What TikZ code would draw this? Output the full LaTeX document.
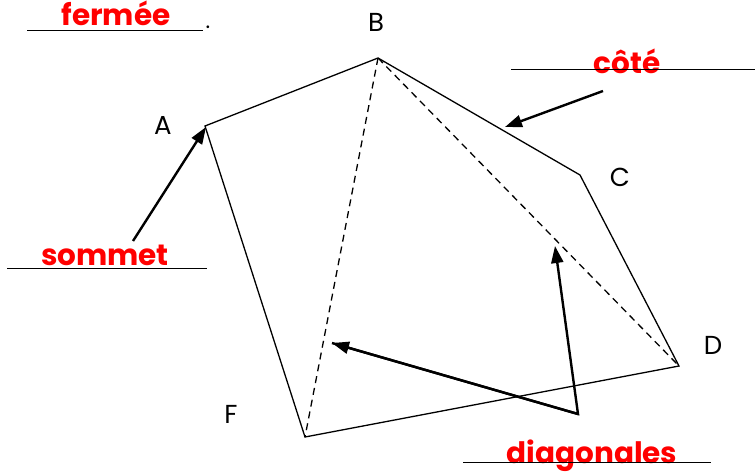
\documentclass[tikz,border=0pt]{standalone}
\usepackage{fontspec}
\setmainfont{Poppins}
\usetikzlibrary{arrows.meta}
\begin{document}
\begin{tikzpicture}[x=1pt,y=-1pt,
  edge/.style={line width=1.3pt,line join=miter},
  diag/.style={line width=1.3pt,dash pattern=on 7pt off 5pt},
  ptr/.style={line width=2.4pt,-{Triangle[length=17pt,width=12pt]}},
  vlbl/.style={font=\fontsize{26}{26}\selectfont,inner sep=0pt},
  word/.style={text=red,font=\bfseries\fontsize{29.5}{29.5}\selectfont,inner sep=0pt,anchor=base},
  blankline/.style={line width=0.9pt}]
\useasboundingbox (0,0) rectangle (755,474);
% vertices
\coordinate (A) at (205,126);
\coordinate (B) at (378,58);
\coordinate (C) at (580,175);
\coordinate (D) at (679,366);
\coordinate (E) at (305,437);
% polygon
\draw[edge] (A) -- (B) -- (C) -- (D) -- (E) -- cycle;
% diagonals
\draw[diag] (B) -- (E);
\draw[diag] (B) -- (D);
% vertex labels
\node[vlbl] (lA) at (163,125) {A};
\node[vlbl] (lB) at (376,22) {B};
\node[vlbl] (lC) at (620,177) {C};
\node[vlbl] (lD) at (713,345) {D};
\node[vlbl] (lF) at (231,414) {F};
% words
\node[word] (wf) at (116,25) {fermée};
\node[inner sep=0pt,font=\fontsize{22}{22}\selectfont,anchor=base] (dot) at (208,28) {.};
\node[word] (wc) at (627,73) {côté};
\node[word] (ws) at (105,265) {sommet};
\node[word] (wd) at (592,463) {diagonales};
% blank lines
\coordinate (f1) at (27,30); \coordinate (f2) at (203,30);
\coordinate (c1) at (511,69); \coordinate (c2) at (755,69);
\coordinate (s1) at (7,268); \coordinate (s2) at (207,268);
\coordinate (d1) at (463,462); \coordinate (d2) at (711,462);
\draw[blankline] (f1) -- (f2);
\draw[blankline] (c1) -- (c2);
\draw[blankline] (s1) -- (s2);
\draw[blankline] (d1) -- (d2);
% arrows
\coordinate (ts) at (133,241);
\coordinate (hs) at (206,127);
\coordinate (tc) at (603,91);
\coordinate (hc) at (505,127);
\coordinate (td) at (578,414);
\coordinate (hd1) at (332,343);
\coordinate (hd2) at (555,246);
\draw[ptr] (ts) -- (hs);
\draw[ptr] (tc) -- (hc);
\draw[ptr,line join=miter] (hd1) -- (td) -- (hd2);
\draw[ptr] (td) -- (hd1);
\end{tikzpicture}
\end{document}
